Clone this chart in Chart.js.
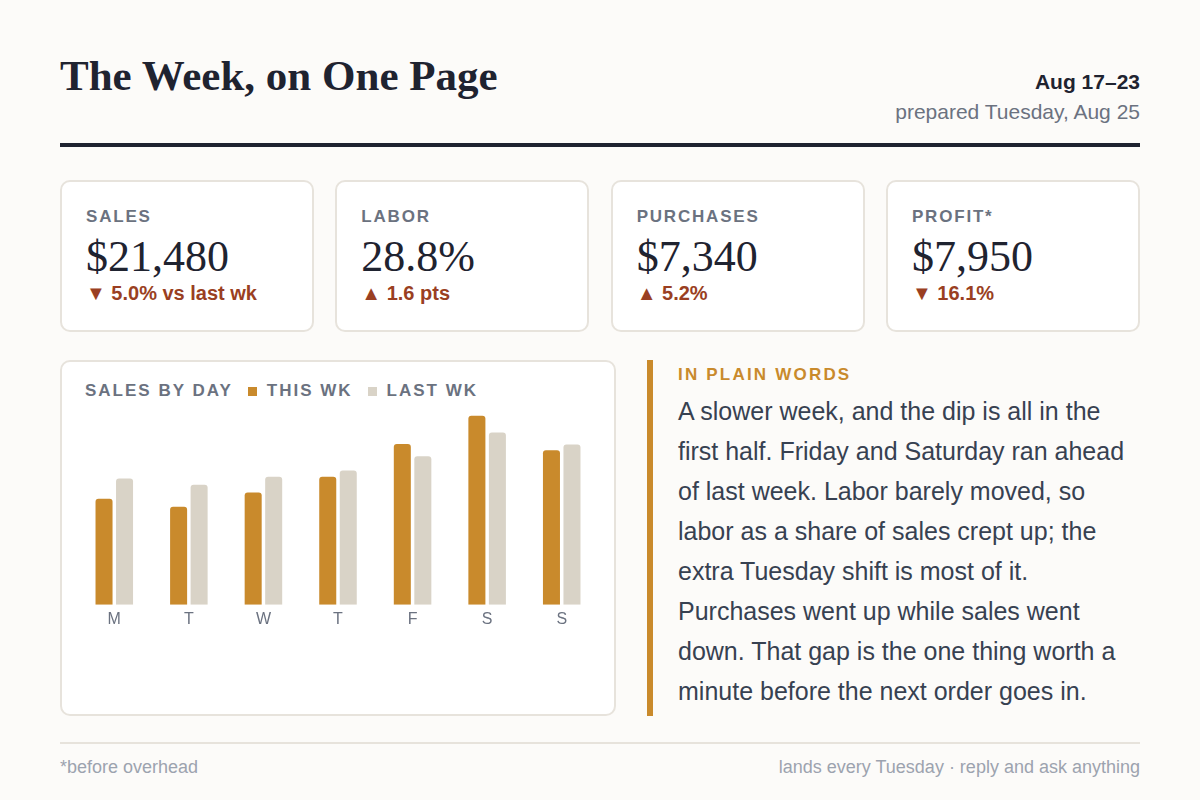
<!DOCTYPE html>
<html>
<head>
<meta charset="utf-8">
<script src="https://cdn.jsdelivr.net/npm/chart.js@4.4.1/dist/chart.umd.min.js"></script>
<style>
  * { box-sizing: border-box; }
  html, body { margin: 0; padding: 0; }
  body { width: 1200px; height: 800px; background: #fcfbf9; font-family: "Liberation Sans", Arial, sans-serif; color: #1f2330; position: relative; overflow: hidden; }
  .head { position: absolute; left: 60px; right: 60px; top: 50px; height: 97px; border-bottom: 4px solid #1f2330; }
  .title { position: absolute; left: 0; top: 1px; font-family: "Liberation Serif", serif; font-weight: bold; font-size: 43px; margin: 0; }
  .meta { position: absolute; right: 0; top: 20px; text-align: right; }
  .meta .range { font-weight: bold; font-size: 21px; }
  .meta .prep { font-size: 21px; color: #6b7280; margin-top: 6px; }
  .kpis { position: absolute; left: 60px; top: 180px; width: 1080px; display: flex; justify-content: space-between; }
  .kpi { width: 254px; height: 152px; background: #fff; border: 2px solid #e7e3dc; border-radius: 10px; padding: 25px 24px; }
  .kpi .lab { font-size: 17px; font-weight: bold; letter-spacing: 1.8px; color: #6b7280; }
  .kpi .val { font-family: "Liberation Serif", serif; font-size: 44px; line-height: 1; margin-top: 8px; }
  .kpi .delta { font-size: 20px; font-weight: bold; color: #9a3f22; margin-top: 3px; }
  .chartcard { position: absolute; left: 60px; top: 360px; width: 556px; height: 356px; background: #fff; border: 2px solid #e7e3dc; border-radius: 10px; }
  .chartcard .hdr { position: absolute; left: 23px; top: 19px; font-size: 17px; font-weight: bold; letter-spacing: 2px; color: #6b7280; }
  .sw { display: inline-block; width: 9px; height: 9px; margin: 0 10px 0 15px; }
  .cwrap { position: absolute; left: 15px; top: 44px; width: 522px; height: 220px; }
  .words { position: absolute; left: 647px; top: 360px; width: 493px; height: 356px; border-left: 6px solid #c98a2c; padding-left: 25px; }
  .words .lab { font-size: 17px; font-weight: bold; letter-spacing: 2.2px; color: #c98a2c; margin-top: 5px; }
  .words p { margin: 6px 0 0 0; font-size: 25px; line-height: 40px; color: #374151; }
  .foot { position: absolute; left: 60px; right: 60px; top: 742px; border-top: 2px solid #e7e3dc; padding-top: 13px; font-size: 18px; color: #9ca3af; display: flex; justify-content: space-between; }
</style>
</head>
<body>
<div class="head">
  <h1 class="title">The Week, on One Page</h1>
  <div class="meta">
    <div class="range">Aug 17–23</div>
    <div class="prep">prepared Tuesday, Aug 25</div>
  </div>
</div>

<div class="kpis">
  <div class="kpi"><div class="lab">SALES</div><div class="val">$21,480</div><div class="delta">▼ 5.0% vs last wk</div></div>
  <div class="kpi"><div class="lab">LABOR</div><div class="val">28.8%</div><div class="delta">▲ 1.6 pts</div></div>
  <div class="kpi"><div class="lab">PURCHASES</div><div class="val">$7,340</div><div class="delta">▲ 5.2%</div></div>
  <div class="kpi"><div class="lab">PROFIT*</div><div class="val">$7,950</div><div class="delta">▼ 16.1%</div></div>
</div>

<div class="chartcard">
  <div class="hdr">SALES BY DAY<span class="sw" style="background:#c98a2c"></span>THIS WK<span class="sw" style="background:#d9d3c7"></span>LAST WK</div>
  <div class="cwrap"><canvas id="salesChart"></canvas></div>
</div>

<div class="words">
  <div class="lab">IN PLAIN WORDS</div>
  <p>A slower week, and the dip is all in the first half. Friday and Saturday ran ahead of last week. Labor barely moved, so labor as a share of sales crept up; the extra Tuesday shift is most of it. Purchases went up while sales went down. That gap is the one thing worth a minute before the next order goes in.</p>
</div>

<div class="foot"><span>*before overhead</span><span>lands every Tuesday · reply and ask anything</span></div>

<script>
const days = ['M', 'T', 'W', 'T', 'F', 'S', 'S'];
const thisWeek = [2400, 2220, 2540, 2900, 3640, 4280, 3500];
const lastWeek = [2860, 2720, 2900, 3040, 3360, 3900, 3630];

const ctx = document.getElementById('salesChart').getContext('2d');
new Chart(ctx, {
    type: 'bar',
    data: {
        labels: days,
        datasets: [
            { label: 'This wk', data: thisWeek, backgroundColor: '#c98a2c' },
            { label: 'Last wk', data: lastWeek, backgroundColor: '#d9d3c7' }
        ]
    },
    options: {
        responsive: true,
        maintainAspectRatio: false,
        animation: false,
        categoryPercentage: 0.55,
        barPercentage: 0.83,
        borderRadius: { topLeft: 3, topRight: 3 },
        borderSkipped: 'bottom',
        plugins: {
            legend: { display: false },
            tooltip: { enabled: false }
        },
        scales: {
            x: {
                grid: { display: false },
                border: { display: false },
                ticks: { color: '#6b7280', font: { family: 'Liberation Sans', size: 16 }, padding: -3 }
            },
            y: {
                display: false,
                min: 0,
                max: 4500
            }
        }
    }
});
</script>
</body>
</html>
